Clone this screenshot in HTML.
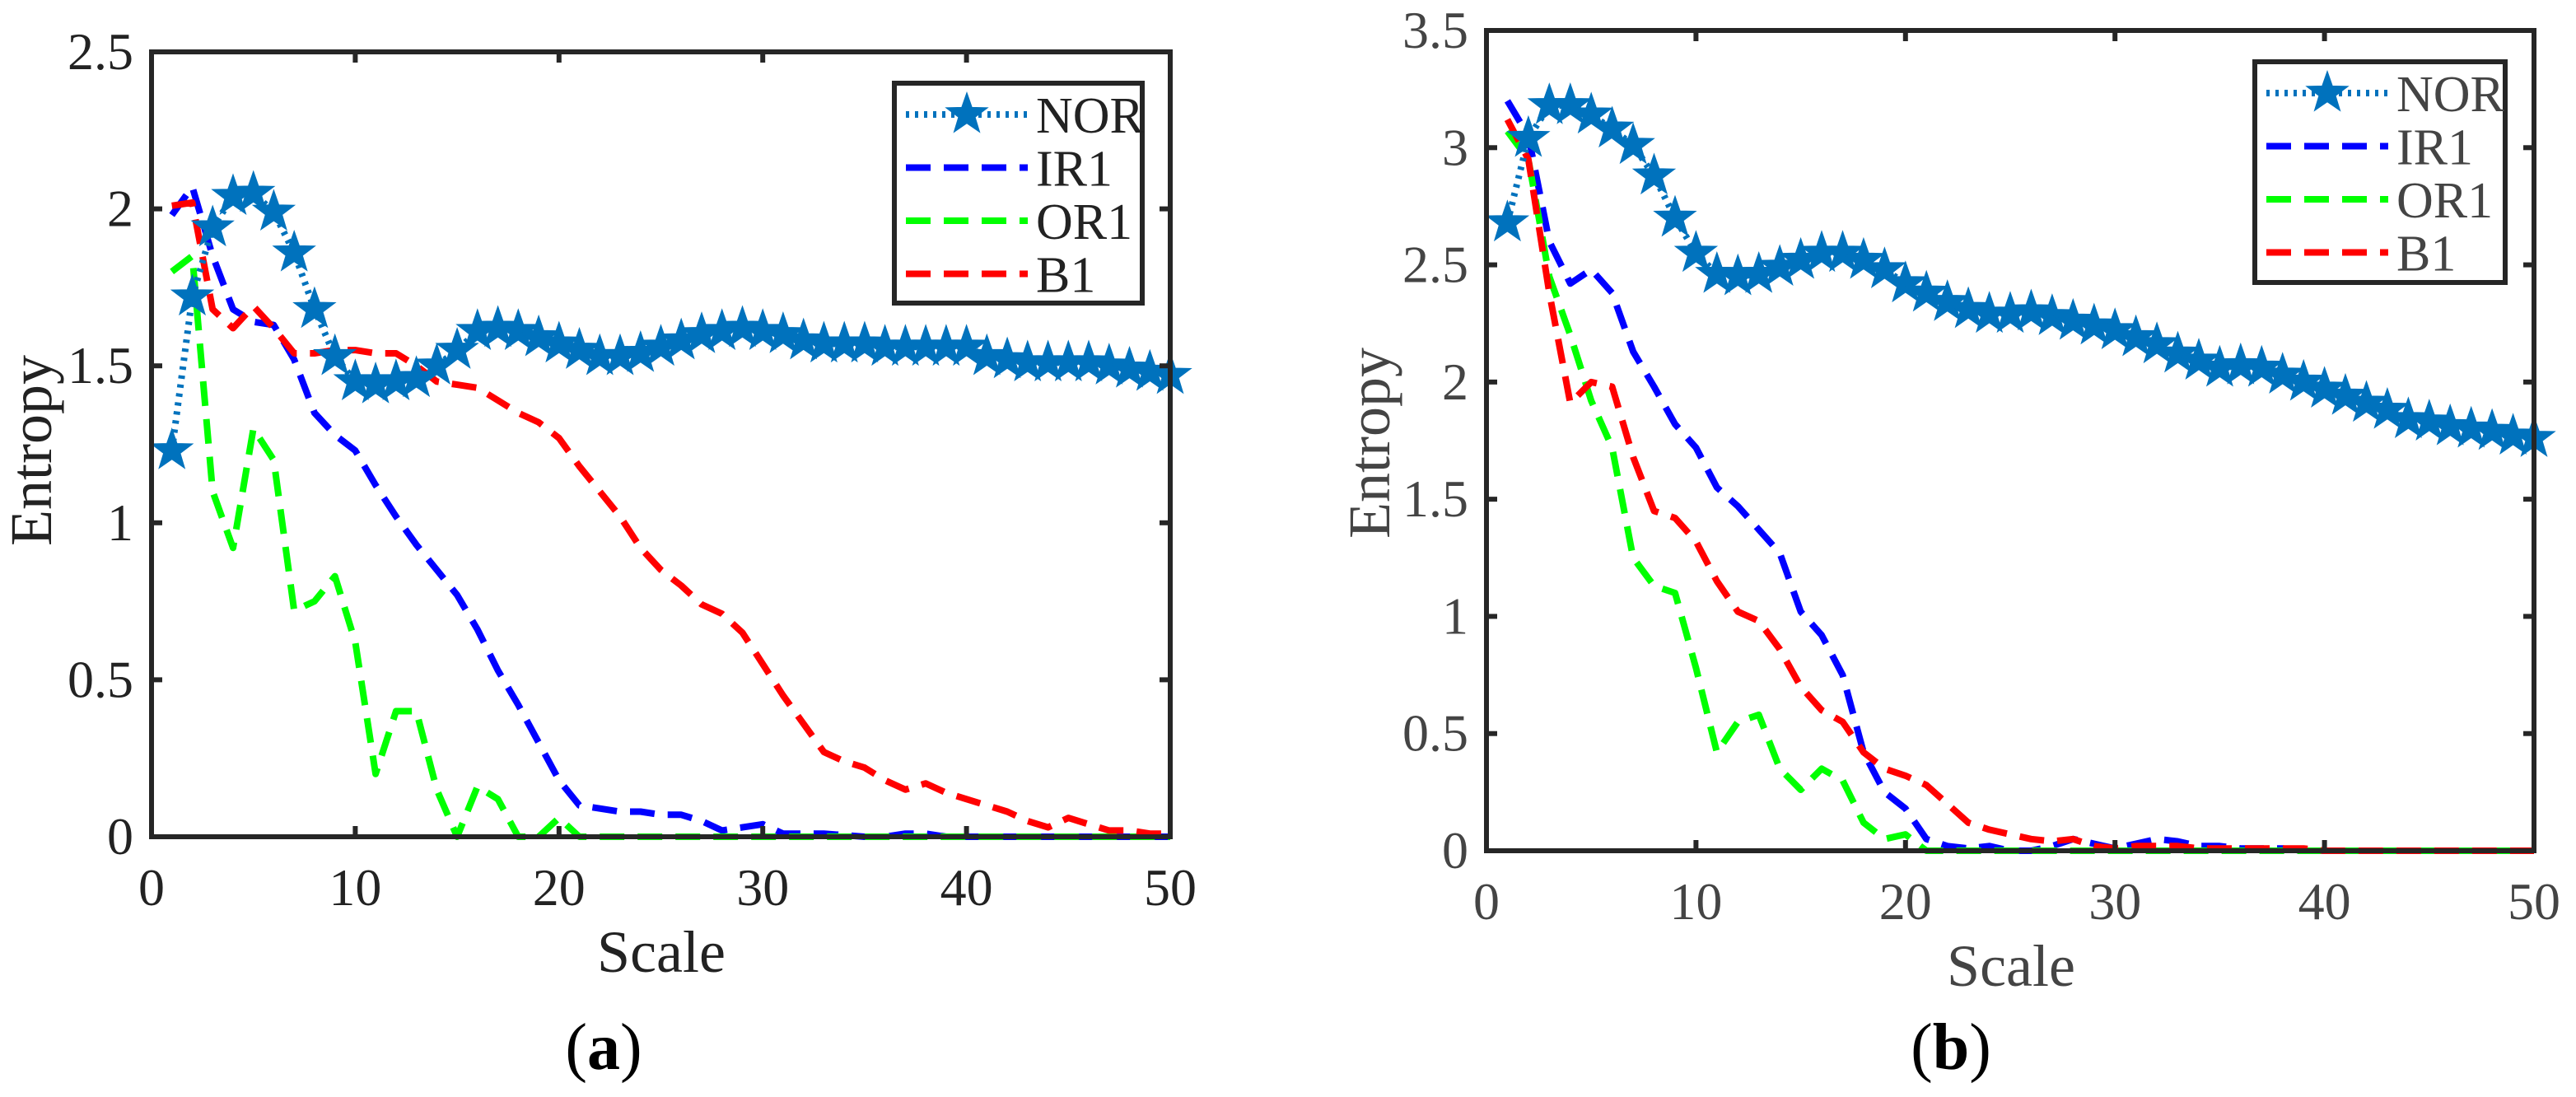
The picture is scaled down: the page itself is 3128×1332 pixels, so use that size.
<!DOCTYPE html>
<html><head><meta charset="utf-8"><style>
html,body{margin:0;padding:0;background:#fff;}
svg{display:block;}
svg text{font-family:"Liberation Serif","Times New Roman",serif;}
</style></head><body>
<svg id="fig" width="3128" height="1332" viewBox="0 0 3128 1332" xmlns="http://www.w3.org/2000/svg"></svg>
<script>
const scales = Array.from({length:50},(_,i)=>i+1);
const seriesNames = ["NOR","IR1","OR1","B1"];
const xTicks = [0,10,20,30,40,50];
const yTicksA = [0,0.5,1,1.5,2,2.5];
const yTicksB = [0,0.5,1,1.5,2,2.5,3,3.5];
const tickLabelsA = ["0","0.5","1","1.5","2","2.5"];
const tickLabelsB = ["0","0.5","1","1.5","2","2.5","3","3.5"];
const norA = [1.23,1.72,1.94,2.04,2.05,1.99,1.86,1.68,1.53,1.45,1.44,1.45,1.46,1.50,1.55,1.61,1.62,1.61,1.59,1.57,1.55,1.53,1.53,1.54,1.56,1.58,1.60,1.61,1.62,1.61,1.60,1.58,1.57,1.57,1.57,1.56,1.56,1.56,1.56,1.56,1.53,1.52,1.51,1.51,1.51,1.51,1.50,1.49,1.48,1.47];
const ir1A = [1.98,2.07,1.85,1.68,1.64,1.63,1.52,1.35,1.28,1.23,1.12,1.02,0.93,0.85,0.77,0.66,0.53,0.42,0.30,0.18,0.10,0.09,0.08,0.08,0.07,0.07,0.05,0.02,0.03,0.04,0.01,0.01,0.01,0.005,0,0,0.01,0.01,0,0,0,0,0,0,0,0,0,0,0,0];
const or1A = [1.80,1.85,1.10,0.92,1.30,1.20,0.72,0.75,0.83,0.62,0.20,0.40,0.40,0.15,0.00,0.16,0.12,0,0,0.06,0,0,0,0,0,0,0,0,0,0,0,0,0,0,0,0,0,0,0,0,0,0,0,0,0,0,0,0,0,0];
const b1A = [2.01,2.02,1.68,1.62,1.69,1.62,1.54,1.54,1.55,1.55,1.54,1.54,1.50,1.45,1.44,1.43,1.39,1.35,1.32,1.27,1.18,1.10,1.02,0.92,0.85,0.80,0.74,0.71,0.65,0.55,0.45,0.36,0.27,0.24,0.22,0.18,0.15,0.17,0.14,0.12,0.10,0.08,0.05,0.03,0.06,0.04,0.02,0.02,0.01,0.01];
const norB = [2.68,3.04,3.18,3.18,3.14,3.08,3.01,2.88,2.70,2.55,2.46,2.45,2.46,2.49,2.52,2.55,2.55,2.52,2.48,2.42,2.38,2.34,2.31,2.29,2.29,2.30,2.28,2.26,2.24,2.22,2.19,2.16,2.12,2.09,2.06,2.07,2.06,2.03,2.00,1.97,1.94,1.91,1.88,1.84,1.83,1.81,1.80,1.79,1.77,1.76];
const ir1B = [3.20,3.05,2.60,2.42,2.48,2.38,2.13,1.98,1.82,1.72,1.55,1.47,1.37,1.27,1.02,0.92,0.75,0.42,0.25,0.18,0.05,0.02,0.01,0.02,0,0,0.02,0.05,0.03,0.01,0.03,0.05,0.04,0.02,0.02,0.01,0.01,0.01,0,0,0,0,0,0,0,0,0,0,0,0];
const or1B = [3.07,2.95,2.45,2.20,1.92,1.72,1.25,1.13,1.10,0.78,0.42,0.55,0.58,0.35,0.26,0.35,0.30,0.12,0.05,0.07,0,0,0,0,0,0,0,0,0,0,0,0,0,0,0,0,0,0,0,0,0,0,0,0,0,0,0,0,0,0];
const b1B = [3.12,2.95,2.38,1.91,2.00,1.98,1.68,1.45,1.42,1.32,1.15,1.02,0.98,0.86,0.70,0.60,0.55,0.42,0.35,0.32,0.28,0.20,0.12,0.09,0.07,0.05,0.04,0.05,0.02,0.01,0.02,0.02,0.02,0.01,0.01,0.01,0.01,0.01,0.01,0,0,0,0,0,0,0,0,0,0,0];

const NS="http://www.w3.org/2000/svg";
const svg=document.getElementById('fig');
function mk(tag,attrs,parent){const e=document.createElementNS(NS,tag);for(const k in attrs)e.setAttribute(k,attrs[k]);(parent||svg).appendChild(e);return e;}
function starPath(cx,cy,R){const r=R*0.4;let d='';for(let i=0;i<10;i++){const a=-Math.PI/2+i*Math.PI/5;const rr=i%2?r:R;d+=(i?'L':'M')+(cx+rr*Math.cos(a)).toFixed(1)+' '+(cy+rr*Math.sin(a)).toFixed(1);}return d+'Z';}

const styles={
 NOR:{stroke:"#0072BD",dash:"4 7",w:8},
 IR1:{stroke:"#0000FF",dash:"30 16",w:8},
 OR1:{stroke:"#00FF00",dash:"30 16",w:8},
 B1:{stroke:"#FF0000",dash:"30 16",w:8}
};
const FONT="font-family:'Liberation Serif','Times New Roman',serif";

function drawChart(cfg){
 const g=mk('g',{});
 
 
 const {L,R,T,B,ymax}=cfg;
 const xs=v=>L+(v-0)/(50-0)*(R-L);
 const ys=v=>B-v/ymax*(B-T);
 const series=[cfg.nor,cfg.ir1,cfg.or1,cfg.b1];
 const order=[1,2,3,0];
 order.forEach(si=>{
  const name=seriesNames[si];const st=styles[name];const vals=series[si];
  const d=vals.map((v,i)=>(i?'L':'M')+xs(scales[i]).toFixed(1)+' '+ys(v).toFixed(1)).join('');
  const p=mk('path',{d:d,fill:'none',stroke:st.stroke,'stroke-width':st.w,'stroke-dasharray':st.dash,'stroke-linejoin':'round'},g);
  
  
  if(name==="NOR"){
   vals.forEach((v,i)=>{
    const s=mk('path',{d:starPath(xs(scales[i]),ys(v),25),fill:st.stroke,stroke:st.stroke,'stroke-width':2},g);
    
    
   });
  }
 });
 const box=mk('rect',{x:L,y:T,width:R-L,height:B-T,fill:'none',stroke:'#262626','stroke-width':6},g);
 
 
 xTicks.forEach(t=>{
  const x=xs(t);
  mk('line',{x1:x,y1:B,x2:x,y2:B-13,stroke:'#262626','stroke-width':6},g);
  mk('line',{x1:x,y1:T,x2:x,y2:T+13,stroke:'#262626','stroke-width':6},g);
  const tx=mk('text',{x:x,y:B+83,'text-anchor':'middle','font-size':64,style:FONT,fill:cfg.tickColor},g);
  tx.textContent=String(t);
  
  
 });
 cfg.yTicks.forEach((t,i)=>{
  const y=ys(t);
  mk('line',{x1:L,y1:y,x2:L+13,y2:y,stroke:'#262626','stroke-width':6},g);
  mk('line',{x1:R,y1:y,x2:R-13,y2:y,stroke:'#262626','stroke-width':6},g);
  const ty=mk('text',{x:L-22,y:y+21,'text-anchor':'end','font-size':64,style:FONT,fill:cfg.tickColor},g);
  ty.textContent=cfg.yLabels[i];
  
  
 });
 const xl=mk('text',{x:cfg.xlX,y:cfg.xlY,'text-anchor':'middle','font-size':72,style:FONT,fill:cfg.tickColor},g);
 xl.textContent='Scale';
 
 
 const yl=mk('text',{x:0,y:0,'text-anchor':'middle','font-size':72,style:FONT,fill:cfg.tickColor,transform:`translate(${cfg.ylX},${cfg.ylY}) rotate(-90)`},g);
 yl.textContent='Entropy';
 
 
 const lg=mk('g',{},g);
 
 
 mk('rect',{x:cfg.lgX,y:cfg.lgY,width:cfg.lgW,height:cfg.lgH,fill:'#fff',stroke:'#262626','stroke-width':6},lg);
 seriesNames.forEach((n,i)=>{
  const y=cfg.lgY+38+i*64.5;const st=styles[n];
  const ln=mk('line',{x1:cfg.lgX+14,y1:y,x2:cfg.lgX+162,y2:y,stroke:st.stroke,'stroke-width':st.w,'stroke-dasharray':st.dash},lg);
  
  
  if(n==="NOR"){mk('path',{d:starPath(cfg.lgX+88,y,25),fill:st.stroke,stroke:st.stroke,'stroke-width':2},lg);}
  const t=mk('text',{x:cfg.lgX+172,y:y+22,'font-size':62,style:FONT,fill:cfg.tickColor},lg);
  t.textContent=n;
  
  
 });
 const cap=mk('text',{x:cfg.capX,y:1298,'text-anchor':'middle','font-size':80,style:FONT,fill:'#000'},g);
 cap.innerHTML='(<tspan font-weight="bold">'+cfg.tag+'</tspan>)';
 
 
}
drawChart({name:'chart-a',tag:'a',L:184,R:1421,T:63,B:1016,ymax:2.5,yTicks:yTicksA,yLabels:tickLabelsA,nor:norA,ir1:ir1A,or1:or1A,b1:b1A,tickColor:'#222',xlX:803,xlY:1180,ylX:62,ylY:547,lgX:1086,lgY:101,lgW:301,lgH:267,capX:733});
drawChart({name:'chart-b',tag:'b',L:1805,R:3077,T:37,B:1033,ymax:3.5,yTicks:yTicksB,yLabels:tickLabelsB,nor:norB,ir1:ir1B,or1:or1B,b1:b1B,tickColor:'#444',xlX:2442,xlY:1197,ylX:1687,ylY:538,lgX:2738,lgY:75,lgW:304,lgH:268,capX:2369});
</script>
</body></html>
